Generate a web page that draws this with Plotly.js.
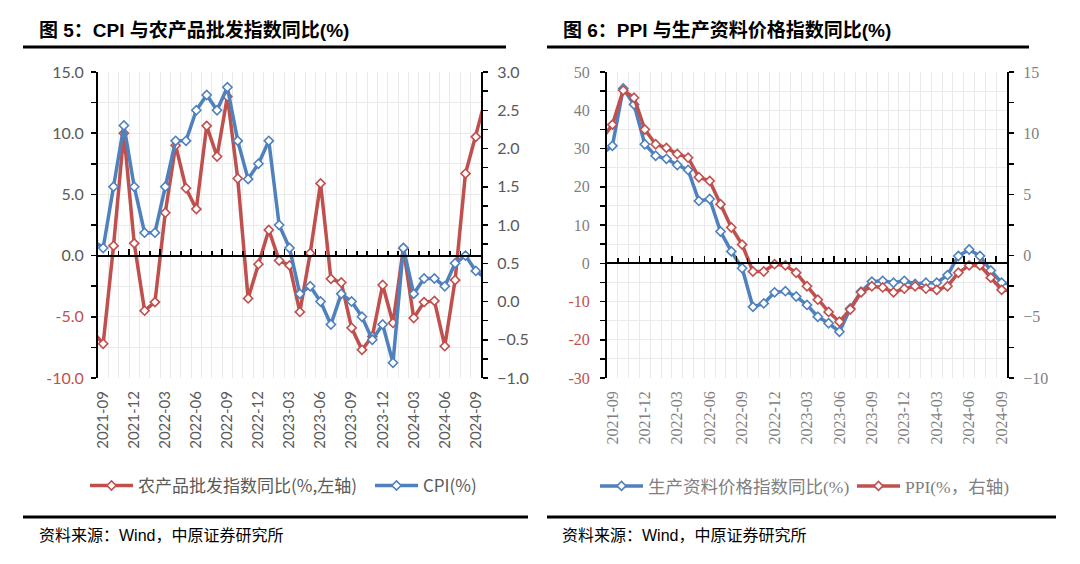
<!DOCTYPE html>
<html><head><meta charset="utf-8">
<script src="https://cdn.plot.ly/plotly-3.0.1.min.js"></script>
<style>html,body{margin:0;padding:0;background:#fff}#chart{width:1080px;height:564px}</style>
</head><body><div id="chart"></div>
<script>
// ---- data (2021-08 .. 2024-10; visible window 2021-09 .. 2024-09) ----
const months = ['2021-08','2021-09','2021-10','2021-11','2021-12',
  '2022-01','2022-02','2022-03','2022-04','2022-05','2022-06','2022-07','2022-08','2022-09','2022-10','2022-11','2022-12',
  '2023-01','2023-02','2023-03','2023-04','2023-05','2023-06','2023-07','2023-08','2023-09','2023-10','2023-11','2023-12',
  '2024-01','2024-02','2024-03','2024-04','2024-05','2024-06','2024-07','2024-08','2024-09','2024-10'];
const tickMonths = ['2021-09','2021-12','2022-03','2022-06','2022-09','2022-12','2023-03','2023-06','2023-09','2023-12','2024-03','2024-06','2024-09'];
const agriYoY = [-6.2, -7.2, 0.8, 10.0, 1.0,
  -4.5, -3.8, 3.5, 9.0, 5.5, 3.8, 10.6, 8.1, 13.0, 6.3, -3.5, -0.7,
  2.1, -0.4, -0.8, -4.6, 0.2, 5.9, -1.9, -2.2, -5.9, -7.7, -6.6, -2.4,
  -5.5, 0.6, -5.1, -3.8, -3.7, -7.4, -2.0, 6.7, 9.7, 13.0];
const cpiYoY = [0.8, 0.7, 1.5, 2.3, 1.5,
  0.9, 0.9, 1.5, 2.1, 2.1, 2.5, 2.7, 2.5, 2.8, 2.1, 1.6, 1.8,
  2.1, 1.0, 0.7, 0.1, 0.2, 0.0, -0.3, 0.1, 0.0, -0.2, -0.5, -0.3,
  -0.8, 0.7, 0.1, 0.3, 0.3, 0.2, 0.5, 0.6, 0.4, 0.3];
const prodGoodsYoY = [28.5, 30.7, 45.7, 41.5, 31.1,
  28.1, 27.3, 25.7, 24.4, 16.3, 16.8, 8.3, 3.1, -1.3, -11.4, -10.5, -7.6,
  -7.3, -8.7, -10.9, -14.0, -15.7, -17.9, -11.8, -7.4, -4.8, -4.6, -5.1, -4.6,
  -5.4, -5.1, -5.1, -3.1, 1.9, 3.6, 1.9, -1.9, -5.1, -5.5];
const ppiYoY = [9.5, 10.7, 13.5, 12.9, 10.3,
  9.1, 8.8, 8.3, 8.0, 6.4, 6.1, 4.2, 2.3, 0.9, -1.3, -1.3, -0.7,
  -0.8, -1.4, -2.5, -3.6, -4.6, -5.4, -4.4, -3.0, -2.5, -2.6, -3.0, -2.7,
  -2.5, -2.7, -2.8, -2.5, -1.4, -0.8, -0.8, -1.8, -2.8, -2.9];
const leftYTicks = [-10, -5, 0, 5, 10, 15];
const rightLeftYTicks = [-30, -20, -10, 0, 10, 20, 30, 40, 50];

// ---- layout helpers ----
const W = 1080, H = 564;
const px = v => v / W, py = v => 1 - v / H;
const RED = '#C0504D', BLUE = '#4F81BD', GRID = '#EAEAEA', LBL = '#595959', LBL2 = '#7F7F7F';
const SANS = 'Lato, "Noto Sans CJK SC", sans-serif';
const SERIF = '"Liberation Serif", "Noto Sans CJK SC", serif';
const CJK = '"Noto Sans CJK SC", "Liberation Sans", sans-serif';
const HEAD = '"Liberation Sans", "Noto Sans CJK SC", sans-serif';
const xIdx = months.map((m, i) => i);
const tickIdx = tickMonths.map(m => months.indexOf(m));
const xRange = [months.indexOf('2021-09') - 0.5, months.indexOf('2024-09') + 0.5];
const majorTick0 = months.indexOf('2021-12') - 0.5;
const yDom = [py(378), py(72)];
const xDomL = [px(98), px(481)], xDomR = [px(607), px(1007)];
const yLRange = [-10, 15], yLR2 = [-1, 3], yRRange = [-30, 50], yRR2 = [-10, 15];
const zeroPos = r => yDom[0] + (0 - r[0]) / (r[1] - r[0]) * (yDom[1] - yDom[0]);
const colTxt = (v, fmt) => { const s = fmt(v); return v < 0 ? `<span style="color:${RED}">${s}</span>` : s; };

const line = (name, x, y, color, xa, ya, lg) => ({
  type: 'scatter', mode: 'lines+markers', name, x, y, xaxis: xa, yaxis: ya, legend: lg,
  line: { color, width: 3.5 },
  marker: { symbol: 'diamond', size: 7, color: '#ffffff', line: { color, width: 1.6 } },
  hoverinfo: 'skip'
});

const data = [
  line('农产品批发指数同比(%,左轴)', xIdx, agriYoY, RED, 'x', 'y', 'legend'),
  line('CPI(%)', xIdx, cpiYoY, BLUE, 'x', 'y2', 'legend2'),
  line('生产资料价格指数同比(%)', xIdx, prodGoodsYoY, BLUE, 'x4', 'y3', 'legend3'),
  line('PPI(%，右轴)', xIdx, ppiYoY, RED, 'x4', 'y4', 'legend4'),
  { type: 'scatter', x: [], y: [], xaxis: 'x2', yaxis: 'y', showlegend: false, hoverinfo: 'skip' },
  { type: 'scatter', x: [], y: [], xaxis: 'x5', yaxis: 'y3', showlegend: false, hoverinfo: 'skip' }
];

const xLabelAxis = (dom, yref, font) => ({
  domain: dom, anchor: yref, range: xRange, tickmode: 'array', tickvals: tickIdx, ticktext: tickMonths,
  tickangle: -90, showgrid: false, showline: false, zeroline: false, ticks: '', ticklabelstandoff: 9,
  minor: { tickmode: 'linear', tick0: 0.5, dtick: 1, showgrid: true, gridcolor: GRID, gridwidth: 1, ticks: '' },
  tickfont: font, fixedrange: true
});
const zeroAxis = (overl, pos) => ({
  overlaying: overl, anchor: 'free', position: pos, range: xRange, showline: true, linecolor: '#000', linewidth: 2,
  showgrid: false, zeroline: false, showticklabels: false, ticks: 'inside', ticklen: 6, tickwidth: 1.5, tickcolor: '#000',
  tickmode: 'linear', tick0: majorTick0, dtick: 3,
  minor: { tickmode: 'linear', tick0: 0.5, dtick: 1, ticks: 'inside', ticklen: 4, tickwidth: 1.5, tickcolor: '#000', showgrid: false }
});
const legendAt = (x, fam, size, col) => ({
  x: px(x), y: py(486), xanchor: 'left', yanchor: 'middle', orientation: 'h', bgcolor: 'rgba(0,0,0,0)',
  font: { family: fam, size, color: col }, itemwidth: 43, tracegroupgap: 0
});

const layout = {
  width: W, height: H, margin: { l: 0, r: 0, t: 0, b: 0 }, paper_bgcolor: '#fff', plot_bgcolor: '#fff',
  showlegend: true,
  xaxis: xLabelAxis(xDomL, 'y', { family: SANS, size: 15, color: LBL }),
  xaxis2: zeroAxis('x', zeroPos(yLRange)),
  yaxis: {
    domain: yDom, anchor: 'x', range: yLRange, tickmode: 'array', tickvals: leftYTicks,
    ticktext: leftYTicks.map(v => colTxt(v, a => a.toFixed(1))),
    showline: true, linecolor: '#000', linewidth: 2, ticks: 'outside', ticklen: 5, tickcolor: '#000', tickwidth: 1.5,
    showgrid: true, gridcolor: GRID, zeroline: false, ticklabelstandoff: 4,
    minor: { tickmode: 'linear', tick0: 0, dtick: 2.5, showgrid: true, gridcolor: GRID, ticks: 'outside', ticklen: 5, tickcolor: '#000', tickwidth: 1.5 },
    tickfont: { family: SANS, size: 16, color: LBL }, fixedrange: true
  },
  yaxis2: {
    overlaying: 'y', side: 'right', anchor: 'x', range: yLR2, tickmode: 'linear', tick0: 0, dtick: 0.5, tickformat: '.1f',
    showline: true, linecolor: '#000', linewidth: 2, ticks: 'outside', ticklen: 5, tickcolor: '#000', tickwidth: 1.5,
    showgrid: false, zeroline: false, ticklabelstandoff: 6,
    minor: { tickmode: 'linear', tick0: 0, dtick: 0.25, ticks: 'outside', ticklen: 5, tickcolor: '#000', tickwidth: 1.5, showgrid: false },
    tickfont: { family: SANS, size: 16, color: LBL }, fixedrange: true
  },
  xaxis4: xLabelAxis(xDomR, 'y3', { family: SERIF, size: 16, color: LBL2 }),
  xaxis5: zeroAxis('x4', zeroPos(yRRange)),
  yaxis3: {
    domain: yDom, anchor: 'x4', range: yRRange, tickmode: 'array', tickvals: rightLeftYTicks,
    ticktext: rightLeftYTicks.map(v => colTxt(v, a => String(a))),
    showline: true, linecolor: '#000', linewidth: 2, ticks: 'outside', ticklen: 5, tickcolor: '#000', tickwidth: 1.5,
    showgrid: true, gridcolor: GRID, zeroline: false, ticklabelstandoff: 7,
    minor: { tickmode: 'linear', tick0: 0, dtick: 5, showgrid: true, gridcolor: GRID, ticks: 'outside', ticklen: 5, tickcolor: '#000', tickwidth: 1.5 },
    tickfont: { family: SERIF, size: 16, color: LBL2 }, fixedrange: true
  },
  yaxis4: {
    overlaying: 'y3', side: 'right', anchor: 'x4', range: yRR2, tickmode: 'linear', tick0: 0, dtick: 5,
    showline: true, linecolor: '#000', linewidth: 2, ticks: 'outside', ticklen: 5, tickcolor: '#000', tickwidth: 1.5,
    showgrid: false, zeroline: false, ticklabelstandoff: 6,
    minor: { tickmode: 'linear', tick0: 0, dtick: 2.5, ticks: 'outside', ticklen: 5, tickcolor: '#000', tickwidth: 1.5, showgrid: false },
    tickfont: { family: SERIF, size: 16, color: LBL2 }, fixedrange: true
  },
  legend: legendAt(85, CJK, 17, LBL),
  legend2: legendAt(370, CJK, 17, LBL),
  legend3: legendAt(595, SERIF, 17.5, LBL2),
  legend4: legendAt(852, SERIF, 17.5, LBL2),
  shapes: [
    { type: 'line', xref: 'paper', yref: 'paper', x0: px(23), x1: px(506), y0: py(47), y1: py(47), line: { color: '#000', width: 3 } },
    { type: 'line', xref: 'paper', yref: 'paper', x0: px(547), x1: px(1029), y0: py(47), y1: py(47), line: { color: '#000', width: 3 } },
    { type: 'line', xref: 'paper', yref: 'paper', x0: px(23), x1: px(528), y0: py(517), y1: py(517), line: { color: '#000', width: 3 } },
    { type: 'line', xref: 'paper', yref: 'paper', x0: px(547), x1: px(1056), y0: py(517), y1: py(517), line: { color: '#000', width: 3 } }
  ],
  annotations: [
    { xref: 'paper', yref: 'paper', x: px(37), y: py(30), xanchor: 'left', yanchor: 'middle', showarrow: false,
      text: '<b>图 5：CPI 与农产品批发指数同比(%)</b>', font: { family: HEAD, size: 19, color: '#000' } },
    { xref: 'paper', yref: 'paper', x: px(561), y: py(30), xanchor: 'left', yanchor: 'middle', showarrow: false,
      text: '<b>图 6：PPI 与生产资料价格指数同比(%)</b>', font: { family: HEAD, size: 19, color: '#000' } },
    { xref: 'paper', yref: 'paper', x: px(37), y: py(535), xanchor: 'left', yanchor: 'middle', showarrow: false,
      text: '资料来源：Wind，中原证券研究所', font: { family: HEAD, size: 16, color: '#000' } },
    { xref: 'paper', yref: 'paper', x: px(560), y: py(535), xanchor: 'left', yanchor: 'middle', showarrow: false,
      text: '资料来源：Wind，中原证券研究所', font: { family: HEAD, size: 16, color: '#000' } }
  ]
};

Plotly.newPlot('chart', data, layout, { staticPlot: true, displayModeBar: false });
</script></body></html>
